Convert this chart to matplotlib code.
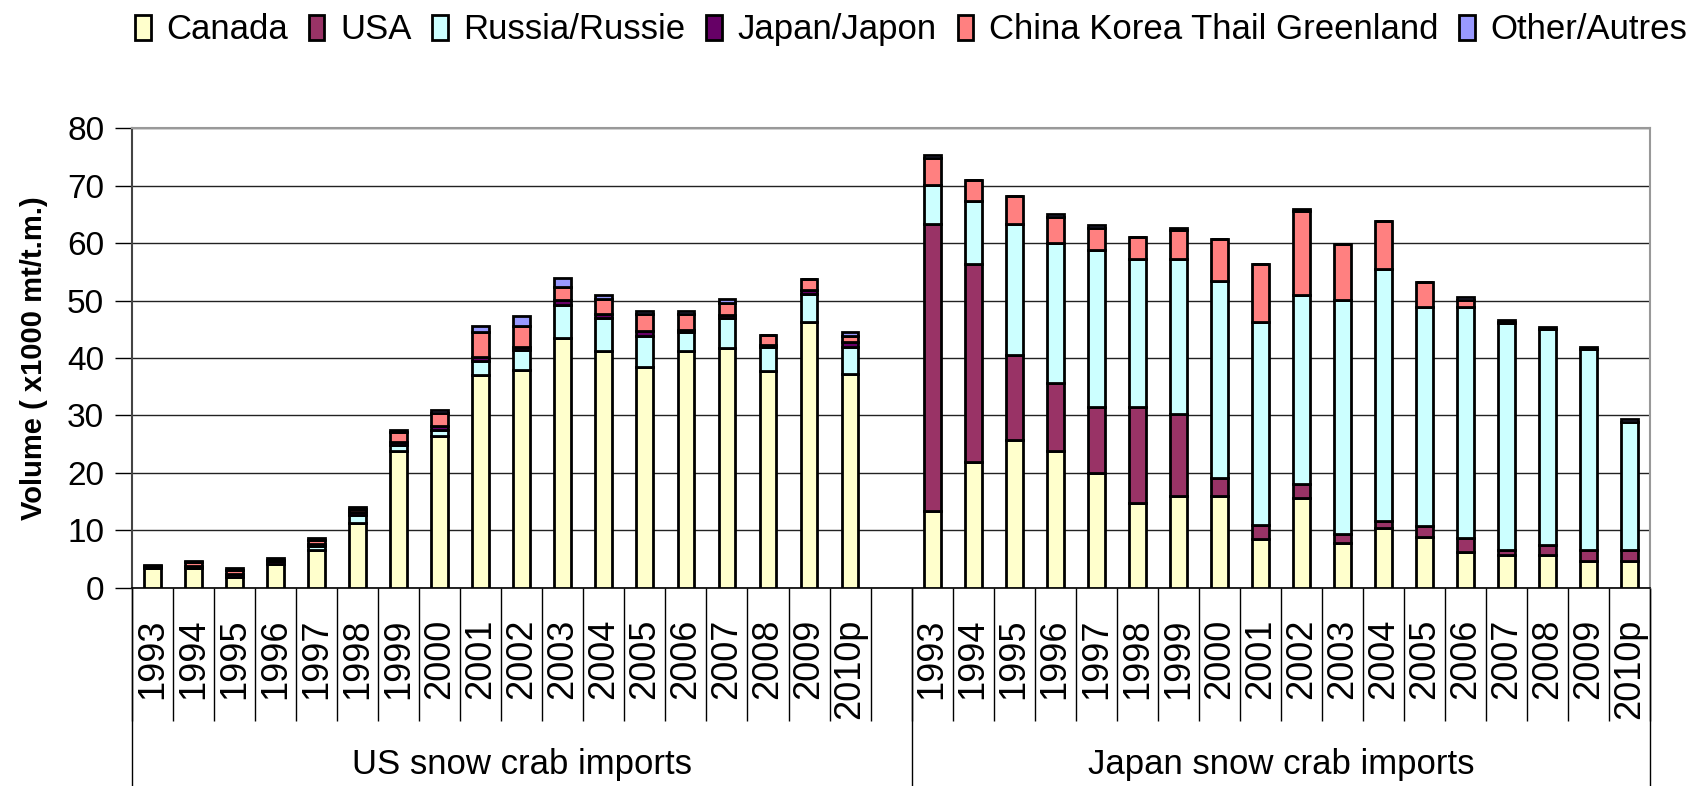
import numpy as np
import matplotlib.pyplot as plt
from matplotlib.transforms import blended_transform_factory

plt.rcParams['font.family'] = ['Liberation Sans', 'DejaVu Sans']

years = ['1993', '1994', '1995', '1996', '1997', '1998', '1999', '2000', '2001',
         '2002', '2003', '2004', '2005', '2006', '2007', '2008', '2009', '2010p']
groups = ['US snow crab imports', 'Japan snow crab imports']
series = ['Canada', 'USA', 'Russia/Russie', 'Japan/Japon',
          'China Korea Thail Greenland', 'Other/Autres']
colors = ['#FFFFCC', '#993366', '#CCFFFF', '#660066', '#FF8080', '#9999FF']

# US imports (x1000 t)
canada_us = [3.4, 3.4, 1.9, 4.2, 6.6, 11.3, 23.9, 26.5, 37.0, 38.0, 43.5, 41.2, 38.5, 41.2, 41.7, 37.7, 46.2, 37.3]
usa_us = [0.0] * 18
russia_us = [0.0, 0.2, 0.0, 0.0, 0.7, 1.4, 1.0, 1.0, 2.5, 3.4, 5.8, 5.8, 5.4, 3.4, 5.2, 4.2, 5.0, 4.7]
japan_us = [0.3, 0.3, 0.6, 0.5, 0.3, 0.5, 0.5, 0.6, 0.6, 0.6, 0.8, 0.7, 0.8, 0.3, 0.6, 0.3, 0.6, 0.8]
china_us = [0.2, 0.6, 0.7, 0.1, 0.8, 0.6, 1.8, 2.3, 4.5, 3.6, 2.2, 2.5, 3.0, 2.8, 2.1, 1.8, 1.9, 1.1]
other_us = [0.1, 0.2, 0.3, 0.4, 0.3, 0.3, 0.3, 0.6, 1.0, 1.7, 1.6, 0.8, 0.5, 0.5, 0.6, 0.0, 0.0, 0.7]

# Japan imports (x1000 t)
canada_jp = [13.3, 21.9, 25.7, 23.9, 20.0, 14.8, 16.0, 16.0, 8.5, 15.6, 7.8, 10.5, 8.9, 6.2, 5.7, 5.7, 4.6, 4.6]
usa_jp = [50.1, 34.4, 14.9, 11.7, 11.4, 16.6, 14.2, 3.2, 2.5, 2.5, 1.5, 1.2, 1.8, 2.4, 0.9, 1.8, 2.0, 2.0]
russia_jp = [6.7, 11.1, 22.8, 24.4, 27.4, 25.8, 27.0, 34.2, 35.3, 32.9, 40.8, 43.8, 38.2, 40.3, 39.5, 37.5, 34.9, 22.3]
japan_jp = [0.0] * 18
china_jp = [4.7, 3.6, 4.8, 4.6, 3.8, 3.9, 5.1, 7.3, 10.0, 14.5, 9.8, 8.4, 4.4, 1.2, 0.2, 0.1, 0.0, 0.0]
other_jp = [0.5, 0.0, 0.0, 0.4, 0.5, 0.0, 0.4, 0.0, 0.0, 0.4, 0.0, 0.0, 0.0, 0.5, 0.4, 0.3, 0.5, 0.5]

us_data = [canada_us, usa_us, russia_us, japan_us, china_us, other_us]
jp_data = [canada_jp, usa_jp, russia_jp, japan_jp, china_jp, other_jp]

n = len(years)
x_us = np.arange(n)
x_jp = np.arange(n) + n + 1
total_slots = 2 * n + 1

fig = plt.figure(figsize=(17.03, 7.86), dpi=100)
ax = fig.add_axes([0.0775, 0.252, 0.8915, 0.585])

width = 0.41
for xs, data in [(x_us, us_data), (x_jp, jp_data)]:
    bottom = np.zeros(n)
    for vals, name, c in zip(data, series, colors):
        vals = np.array(vals)
        ax.bar(xs, vals, width, bottom=bottom, color=c, edgecolor='black',
               linewidth=2.0, label=name if xs is x_us else None, zorder=3)
        bottom += vals

ax.set_xlim(-0.5, total_slots - 0.5)
ax.set_ylim(0, 80)
ax.set_yticks(range(0, 81, 10))
ax.tick_params(axis='y', labelsize=24, length=12, width=1, direction='out', pad=8)
ax.yaxis.grid(True, color='#222222', linewidth=1, zorder=0)
ax.set_axisbelow(True)

ax.set_xticks(np.concatenate([x_us, x_jp]), years + years, rotation=90)
ax.tick_params(axis='x', labelsize=26, length=0, pad=22)

for side in ['top', 'right']:
    ax.spines[side].set_color('#999999')
    ax.spines[side].set_linewidth(1.5)
ax.spines['left'].set_color('#444444')
ax.spines['left'].set_linewidth(1.5)
ax.spines['bottom'].set_color('black')
ax.spines['bottom'].set_linewidth(1.2)

ax.set_ylabel('Volume ( x1000 mt/t.m.)', fontsize=21, fontweight='bold', labelpad=14)

# category axis separators
trans = blended_transform_factory(ax.transData, ax.transAxes)
bounds = np.arange(total_slots + 1) - 0.5
ax.vlines(bounds, -0.29, 0, transform=trans, colors='black', linewidth=1, clip_on=False)
ax.vlines([-0.5, n + 0.5, total_slots - 0.5], -0.43, 0, transform=trans,
          colors='black', linewidth=1, clip_on=False)

ax.text((-0.5 + n + 0.5) / 2, -0.385, groups[0], transform=trans, fontsize=25,
        ha='center', va='center')
ax.text((n + 0.5 + total_slots - 0.5) / 2, -0.385, groups[1], transform=trans,
        fontsize=25, ha='center', va='center')

fig.legend(loc='center', bbox_to_anchor=(0.535, 0.962), ncol=6, frameon=False,
           fontsize=25, handlelength=0.45, handleheight=0.75, handletextpad=0.45,
           columnspacing=0.6, borderaxespad=0)

fig.savefig('out.png', dpi=100)
